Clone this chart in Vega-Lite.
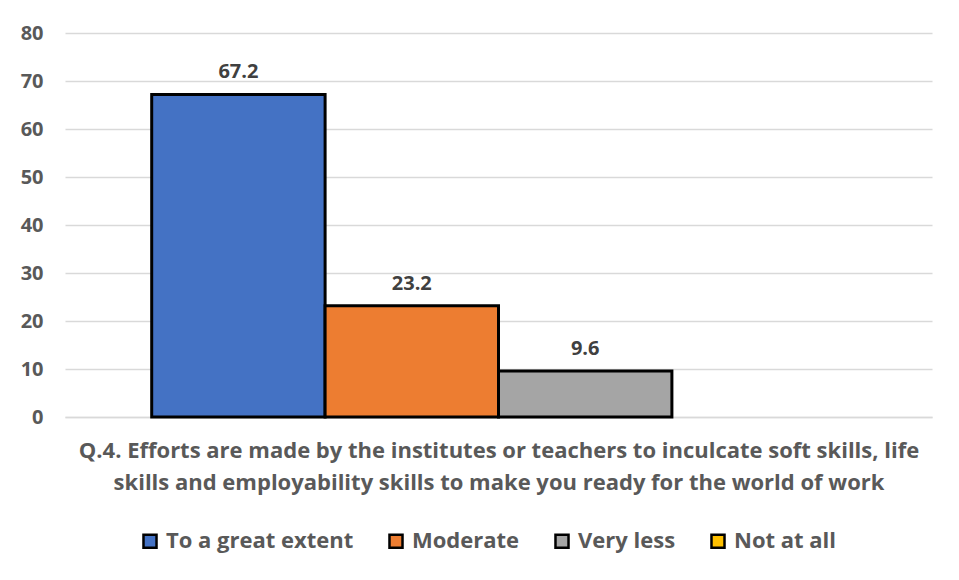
{
  "$schema": "https://vega.github.io/schema/vega-lite/v6.json",
  "autosize": "none",
  "width": 867,
  "height": 384,
  "padding": {"left": 65, "top": 33, "right": 27, "bottom": 163},
  "background": "white",
  "config": {
    "font": "Open Sans",
    "view": {"stroke": null}
  },
  "data": {
    "values": [
      {"category": "To a great extent", "value": 67.2},
      {"category": "Moderate", "value": 23.2},
      {"category": "Very less", "value": 9.6},
      {"category": "Not at all", "value": 0}
    ]
  },
  "encoding": {
    "x": {
      "field": "category",
      "type": "nominal",
      "sort": ["To a great extent", "Moderate", "Very less", "Not at all"],
      "scale": {"domain": ["To a great extent", "Moderate", "Very less", "Not at all"], "paddingInner": 0, "paddingOuter": 0.5},
      "axis": {
        "labels": false,
        "ticks": false,
        "domainColor": "#d9d9d9",
        "domainWidth": 1.5,
        "title": ["Q.4. Efforts are made by the institutes or teachers to inculcate soft skills, life", "skills and employability skills to make you ready for the world of work"],
        "titleFont": "Open Sans",
        "titleFontSize": 22,
        "titleFontWeight": "bold",
        "titleColor": "#595959",
        "titleLineHeight": 32,
        "titlePadding": 23
      }
    },
    "y": {
      "field": "value",
      "type": "quantitative",
      "scale": {"domain": [0, 80]},
      "axis": {
        "values": [0, 10, 20, 30, 40, 50, 60, 70, 80],
        "title": null,
        "domain": false,
        "ticks": false,
        "gridColor": "#d9d9d9",
        "gridWidth": 1.5,
        "labelFont": "Open Sans",
        "labelFontSize": 20,
        "labelFontWeight": "bold",
        "labelColor": "#595959",
        "labelPadding": 22
      }
    }
  },
  "layer": [
    {
      "transform": [{"filter": "datum.value > 0"}],
      "mark": {"type": "bar", "stroke": "black", "strokeWidth": 3},
      "encoding": {
        "color": {
          "field": "category",
          "type": "nominal",
          "scale": {
            "domain": ["To a great extent", "Moderate", "Very less", "Not at all"],
            "range": ["#4472c4", "#ed7d31", "#a5a5a5", "#ffc000"]
          },
          "legend": {
            "title": null,
            "orient": "none",
            "legendX": 74,
            "legendY": 497,
            "direction": "horizontal",
            "columns": 4,
            "symbolType": "square",
            "symbolSize": 170,
            "symbolStrokeColor": "black",
            "symbolStrokeWidth": 2.5,
            "labelFont": "Open Sans",
            "labelFontSize": 22,
            "labelFontWeight": "bold",
            "labelColor": "#595959",
            "labelOffset": 5,
            "columnPadding": 30,
            "labelLimit": 300
          }
        }
      }
    },
    {
      "transform": [{"filter": "datum.value > 0"}],
      "mark": {"type": "text", "baseline": "bottom", "dy": -12, "font": "Open Sans", "fontSize": 20, "fontWeight": "bold", "color": "#404040"},
      "encoding": {
        "text": {"field": "value", "type": "quantitative", "format": ".1f"}
      }
    }
  ]
}
